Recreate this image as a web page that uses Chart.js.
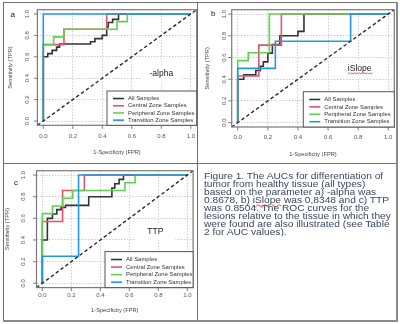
<!DOCTYPE html>
<html><head><meta charset="utf-8">
<script src="https://cdn.jsdelivr.net/npm/chart.js@4/dist/chart.umd.min.js"></script>
<style>
html,body{margin:0;padding:0;background:#fff;width:400px;height:324px;overflow:hidden;}
#wrap{position:relative;width:400px;height:324px;}
canvas{position:absolute;left:0;top:0;}
.ln{position:absolute;background:#6e6e6e;}
#caption{position:absolute;left:204px;top:173px;font-family:"Liberation Sans",Arial,sans-serif;font-size:10.2px;line-height:9.88px;color:#3a4860;white-space:pre;transform:scaleY(0.8);transform-origin:0 0;}
.sp{text-decoration:underline wavy #e03030;text-decoration-thickness:1px;text-underline-offset:1px;}
</style></head>
<body><div id="wrap">
<canvas id="ca" width="400" height="324"></canvas>
<canvas id="cb" width="400" height="324"></canvas>
<canvas id="cc" width="400" height="324"></canvas>
<div class="ln" style="left:3px;top:2px;width:1px;height:319px"></div>
<div class="ln" style="left:3px;top:2px;width:394px;height:1px"></div>
<div class="ln" style="left:197px;top:2px;width:1px;height:319px"></div>
<div class="ln" style="left:3px;top:163px;width:394px;height:1px"></div>
<div class="ln" style="left:396px;top:2px;width:2px;height:320px;background:#8a8a8a"></div>
<div class="ln" style="left:3px;top:320px;width:395px;height:2px;background:#8a8a8a"></div>
<div id="caption">Figure 1. The AUCs for differentiation of
tumor from healthy tissue (all types)
based on the parameter a) -alpha was
0.8678, b) <span class="sp">iSlope</span> was 0,8348 and c) TTP
was 0.8504. The ROC curves for the
lesions relative to the tissue in which they
were found are also illustrated (see Table
2 for AUC values).</div>
</div>
<script>
// ---- data ----
const tickVals = [0, 0.2, 0.4, 0.6, 0.8, 1.0];
const tickLabels = ['0.0', '0.2', '0.4', '0.6', '0.8', '1.0'];
const seriesNames = ['All Samples', 'Central Zone Samples', 'Peripheral Zone Samples', 'Transition Zone Samples'];
const xTitle = '1-Specificity (FPR)';
const yTitle = 'Sensitivity (TPR)';
const diagonal = [[-0.04, -0.04], [1.04, 1.04]];

// panel a: -alpha   points [FPR, TPR]
const alphaAll = [[0,0],[0,0.6],[0.03,0.63],[0.06,0.66],[0.09,0.69],[0.11,0.72],[0.32,0.74],[0.35,0.77],[0.40,0.8],[0.43,0.88],[0.44,0.92],[0.47,0.95],[0.51,1],[1,1]];
const alphaCentral = [[0,0],[0,0.714],[0.14,0.857],[0.43,1],[1,1]];
const alphaPeripheral = [[0,0],[0,0.714],[0.07,0.786],[0.14,0.857],[0.5,0.929],[0.57,1],[1,1]];
const alphaTransition = [[0,0],[0,1],[1,1]];

// panel b: iSlope
const slopeAll = [[0,0],[0,0.4],[0.04,0.44],[0.12,0.48],[0.15,0.52],[0.17,0.56],[0.2,0.64],[0.23,0.72],[0.28,0.8],[0.4,0.84],[0.44,1],[1,1]];
const slopeCentral = [[0,0],[0,0.429],[0.14,0.714],[0.29,1],[1,1]];
const slopePeripheral = [[0,0],[0,0.571],[0.07,0.643],[0.21,1],[1,1]];
const slopeTransition = [[0,0],[0,0.5],[0.25,0.75],[0.75,1],[1,1]];

// panel c: TTP
const ttpAll = [[0,0],[0,0.4],[0.035,0.6],[0.07,0.64],[0.1,0.68],[0.13,0.7],[0.16,0.72],[0.32,0.8],[0.48,0.88],[0.5,0.92],[0.53,0.96],[0.56,1],[1,1]];
const ttpCentral = [[0,0],[0,0.571],[0.14,0.857],[0.29,1],[1,1]];
const ttpPeripheral = [[0,0],[0,0.643],[0.07,0.714],[0.14,0.786],[0.21,0.857],[0.57,0.929],[0.64,1],[1,1]];
const ttpTransition = [[0,0],[0,0.25],[0.25,1],[1,1]];

// ---- styling ----
const seriesColors = ['#333333', '#DF536B', '#61D04F', '#2297E6'];
const FONT = '"Liberation Sans", Arial, Helvetica, sans-serif';

function toXY(arr) { return arr.map(p => ({x: p[0], y: p[1]})); }

function wavy(c, x0, x1, y) {
  c.save(); c.strokeStyle = '#e03030'; c.lineWidth = 0.8; c.beginPath();
  let up = true; c.moveTo(x0, y);
  for (let x = x0; x < x1; x += 1.3) { c.lineTo(x + 1.3, up ? y - 1 : y); up = !up; }
  c.stroke(); c.restore();
}

function decorPlugin(lay) {
  return {
    id: 'decor',
    afterDraw(chart) {
      const c = chart.ctx, a = chart.chartArea, xs = chart.scales.x, ys = chart.scales.y;
      c.save();
      // annotation
      const ax = xs.getPixelForValue(lay.note[0]), ay = ys.getPixelForValue(lay.note[1]);
      c.fillStyle = '#fff'; c.fillRect(ax - 20, ay - 8.5, 40, 17);
      c.fillStyle = '#1a1a1a'; c.font = '8.5px ' + FONT; c.textAlign = 'center'; c.textBaseline = 'middle';
      c.fillText(lay.noteText, ax, ay);
      if (lay.wavy) { const w = c.measureText(lay.noteText).width; wavy(c, ax - w / 2, ax + w / 2, ay + 5.5); }
      // box
      c.strokeStyle = '#7a7a7a'; c.lineWidth = 1.2;
      c.strokeRect(a.left, a.top, a.right - a.left, a.bottom - a.top);
      // tick marks
      c.lineWidth = 1; c.beginPath();
      tickVals.forEach(v => {
        const px = xs.getPixelForValue(v); c.moveTo(px, a.bottom); c.lineTo(px, a.bottom + 3.5);
        const py = ys.getPixelForValue(v); c.moveTo(a.left, py); c.lineTo(a.left - 3.5, py);
      });
      c.stroke();
      // tick labels
      c.fillStyle = '#555'; c.font = '6px ' + FONT;
      tickVals.forEach((v, i) => {
        c.fillText(tickLabels[i], xs.getPixelForValue(v), lay.xTickY);
        c.save(); c.translate(lay.yTickX, ys.getPixelForValue(v)); c.rotate(-Math.PI / 2);
        c.fillText(tickLabels[i], 0, 0); c.restore();
      });
      // axis titles
      c.fillStyle = '#444'; c.font = '5.7px ' + FONT;
      c.fillText(xTitle, (a.left + a.right) / 2, lay.xTitleY);
      c.save(); c.translate(lay.yTitleX, (a.top + a.bottom) / 2); c.rotate(-Math.PI / 2);
      c.fillText(yTitle, 0, 0); c.restore();
      // panel tag
      c.fillStyle = '#111'; c.font = '8px ' + FONT; c.fillText(lay.tag, lay.tagX, lay.tagY);
      // legend
      const lw = lay.legW, lh = lay.legH, lx = a.right - lw, ly = a.bottom - lh;
      c.fillStyle = '#fff'; c.fillRect(lx, ly, lw, lh);
      c.strokeStyle = '#555'; c.lineWidth = 1; c.strokeRect(lx, ly, lw, lh);
      c.font = '5.9px ' + FONT; c.textAlign = 'left';
      seriesNames.forEach((n, i) => {
        const yy = ly + lh * (0.22 + 0.21 * i);
        c.strokeStyle = seriesColors[i]; c.lineWidth = 1.6; c.beginPath();
        c.moveTo(lx + 6, yy); c.lineTo(lx + 17, yy); c.stroke();
        c.fillStyle = '#333'; c.fillText(n, lx + 21, yy);
      });
      c.restore();
    }
  };
}

function axisOpts() {
  return {
    type: 'linear', min: -0.04, max: 1.04,
    afterBuildTicks: s => { s.ticks = tickVals.map(v => ({value: v})); },
    ticks: {display: false},
    grid: {color: '#cdcdcd', lineWidth: 1, drawTicks: false},
    border: {display: false, dash: [1.5, 1.5]}
  };
}

function build(id, series, lay) {
  const datasets = series.map((s, i) => ({
    label: seriesNames[i], data: toXY(s), borderColor: seriesColors[i], borderWidth: 1.6,
    pointRadius: 0, stepped: 'before', fill: false, order: 4 - i
  }));
  datasets.push({label: 'diagonal', data: toXY(diagonal), borderColor: '#2a2a2a', borderWidth: 1.4,
    borderDash: [3.5, 2.5], pointRadius: 0, fill: false, order: 0});
  new Chart(document.getElementById(id), {
    type: 'line',
    data: {datasets},
    options: {
      responsive: false, animation: false, events: [],
      layout: {padding: {left: lay.area[0], top: lay.area[1], right: 400 - lay.area[2], bottom: 324 - lay.area[3]}},
      plugins: {legend: {display: false}, tooltip: {enabled: false}},
      scales: {x: axisOpts(), y: axisOpts()}
    },
    plugins: [decorPlugin(lay)]
  });
}

build('ca', [alphaAll, alphaCentral, alphaPeripheral, alphaTransition], {
  area: [37.4, 9.7, 196.7, 125.3], yTickX: 27.5, xTickY: 136.7, yTitleX: 10.7, xTitleY: 152.7,
  tag: 'a', tagX: 12.7, tagY: 15, legW: 89.7, legH: 34.3, note: [0.8, 0.44], noteText: '-alpha', wavy: false
});
build('cb', [slopeAll, slopeCentral, slopePeripheral, slopeTransition], {
  area: [231.7, 9.7, 394.3, 127], yTickX: 224, xTickY: 137.5, yTitleX: 207.3, xTitleY: 154.5,
  tag: 'b', tagX: 213.3, tagY: 14, legW: 91, legH: 35.3, note: [0.81, 0.5], noteText: 'iSlope', wavy: true
});
build('cc', [ttpAll, ttpCentral, ttpPeripheral, ttpTransition], {
  area: [36.5, 170.7, 193.1, 287.6], yTickX: 23.3, xTickY: 295.3, yTitleX: 7, xTitleY: 310.7,
  tag: 'c', tagX: 16, tagY: 182.5, legW: 88.1, legH: 36, note: [0.78, 0.476], noteText: 'TTP', wavy: false
});
</script>
</body></html>
